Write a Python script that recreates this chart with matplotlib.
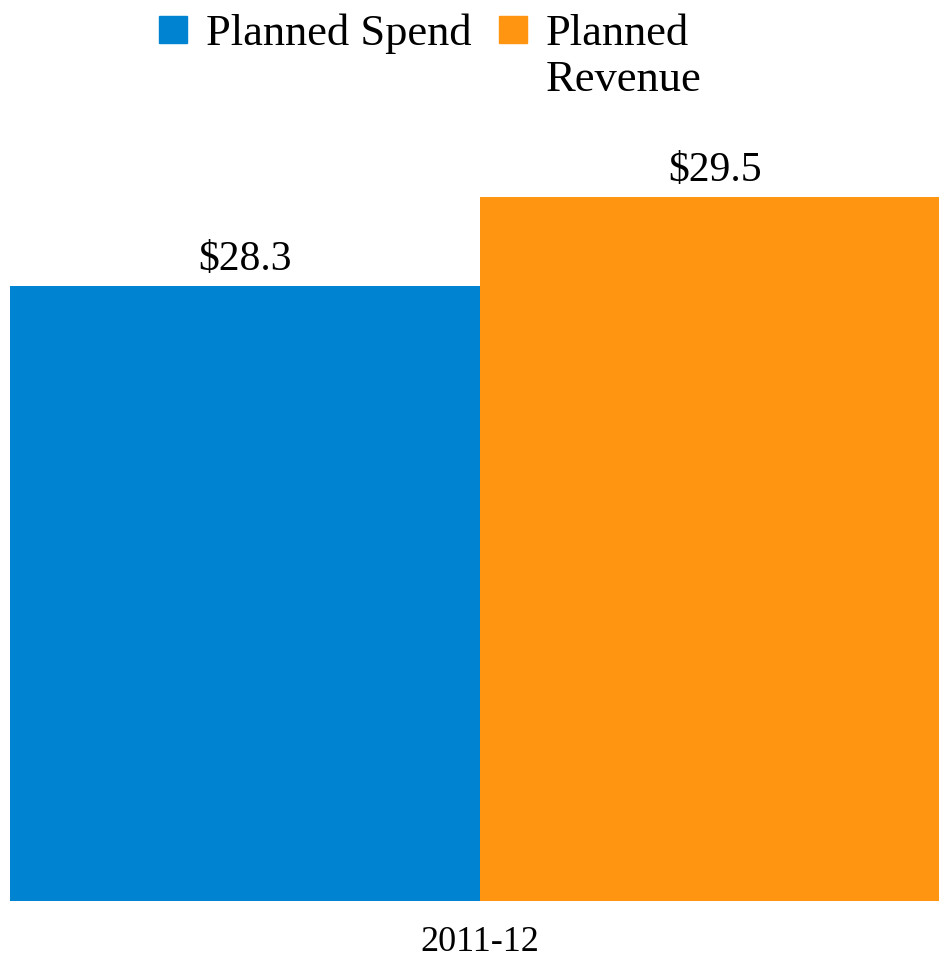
import matplotlib.pyplot as plt
from matplotlib.legend_handler import HandlerPatch
from matplotlib.patches import Patch, Rectangle

categories = ["2011-12"]
series_names = ["Planned Spend\n", "Planned\nRevenue"]
spend = [28.3]
revenue = [29.5]
colors = ["#0084D1", "#FF9510"]

plt.rcParams["font.family"] = ["Liberation Serif", "DejaVu Serif"]

W, H = 939, 961
fig = plt.figure(figsize=(W / 100, H / 100), dpi=100)
# axes spans x 10..950 px, y 160..901 px
ax = fig.add_axes([10 / W, (H - 901) / H, 940 / W, (901 - 160) / H])

width = 0.5
x = range(len(categories))
bars_spend = ax.bar([i - width / 2 for i in x], spend, width=width, color=colors[0])
bars_rev = ax.bar([i + width / 2 for i in x], revenue, width=width, color=colors[1])

ax.set_ylim(20, 30)
ax.set_xlim(-0.5, 0.5)
ax.bar_label(bars_spend, labels=[f"${v:.1f}" for v in spend], padding=5, fontsize=30)
ax.bar_label(bars_rev, labels=[f"${v:.1f}" for v in revenue], padding=5, fontsize=30)

ax.set_xticks(list(x), categories, fontsize=26)
ax.tick_params(axis="x", length=0, pad=18)
ax.set_yticks([])
for spine in ax.spines.values():
    spine.set_visible(False)


def top_line_square(legend, orig_handle, xdescent, ydescent, width, height, fontsize):
    # lift the square so it sits beside the first line of a two-line label
    return Rectangle((-xdescent, -ydescent + 0.62 * fontsize), width, height)


handles = [Patch(color=c) for c in colors]
fig.legend(handles, series_names, ncol=2, loc="upper left", bbox_to_anchor=(150 / W, 1.0 - 5 / H),
           frameon=False, fontsize=32, handlelength=0.63, handleheight=0.58,
           handletextpad=0.43, columnspacing=0.61, borderaxespad=0.0, borderpad=0.2,
           labelspacing=0, handler_map={Patch: HandlerPatch(patch_func=top_line_square)})

fig.savefig("out.png", dpi=100)
